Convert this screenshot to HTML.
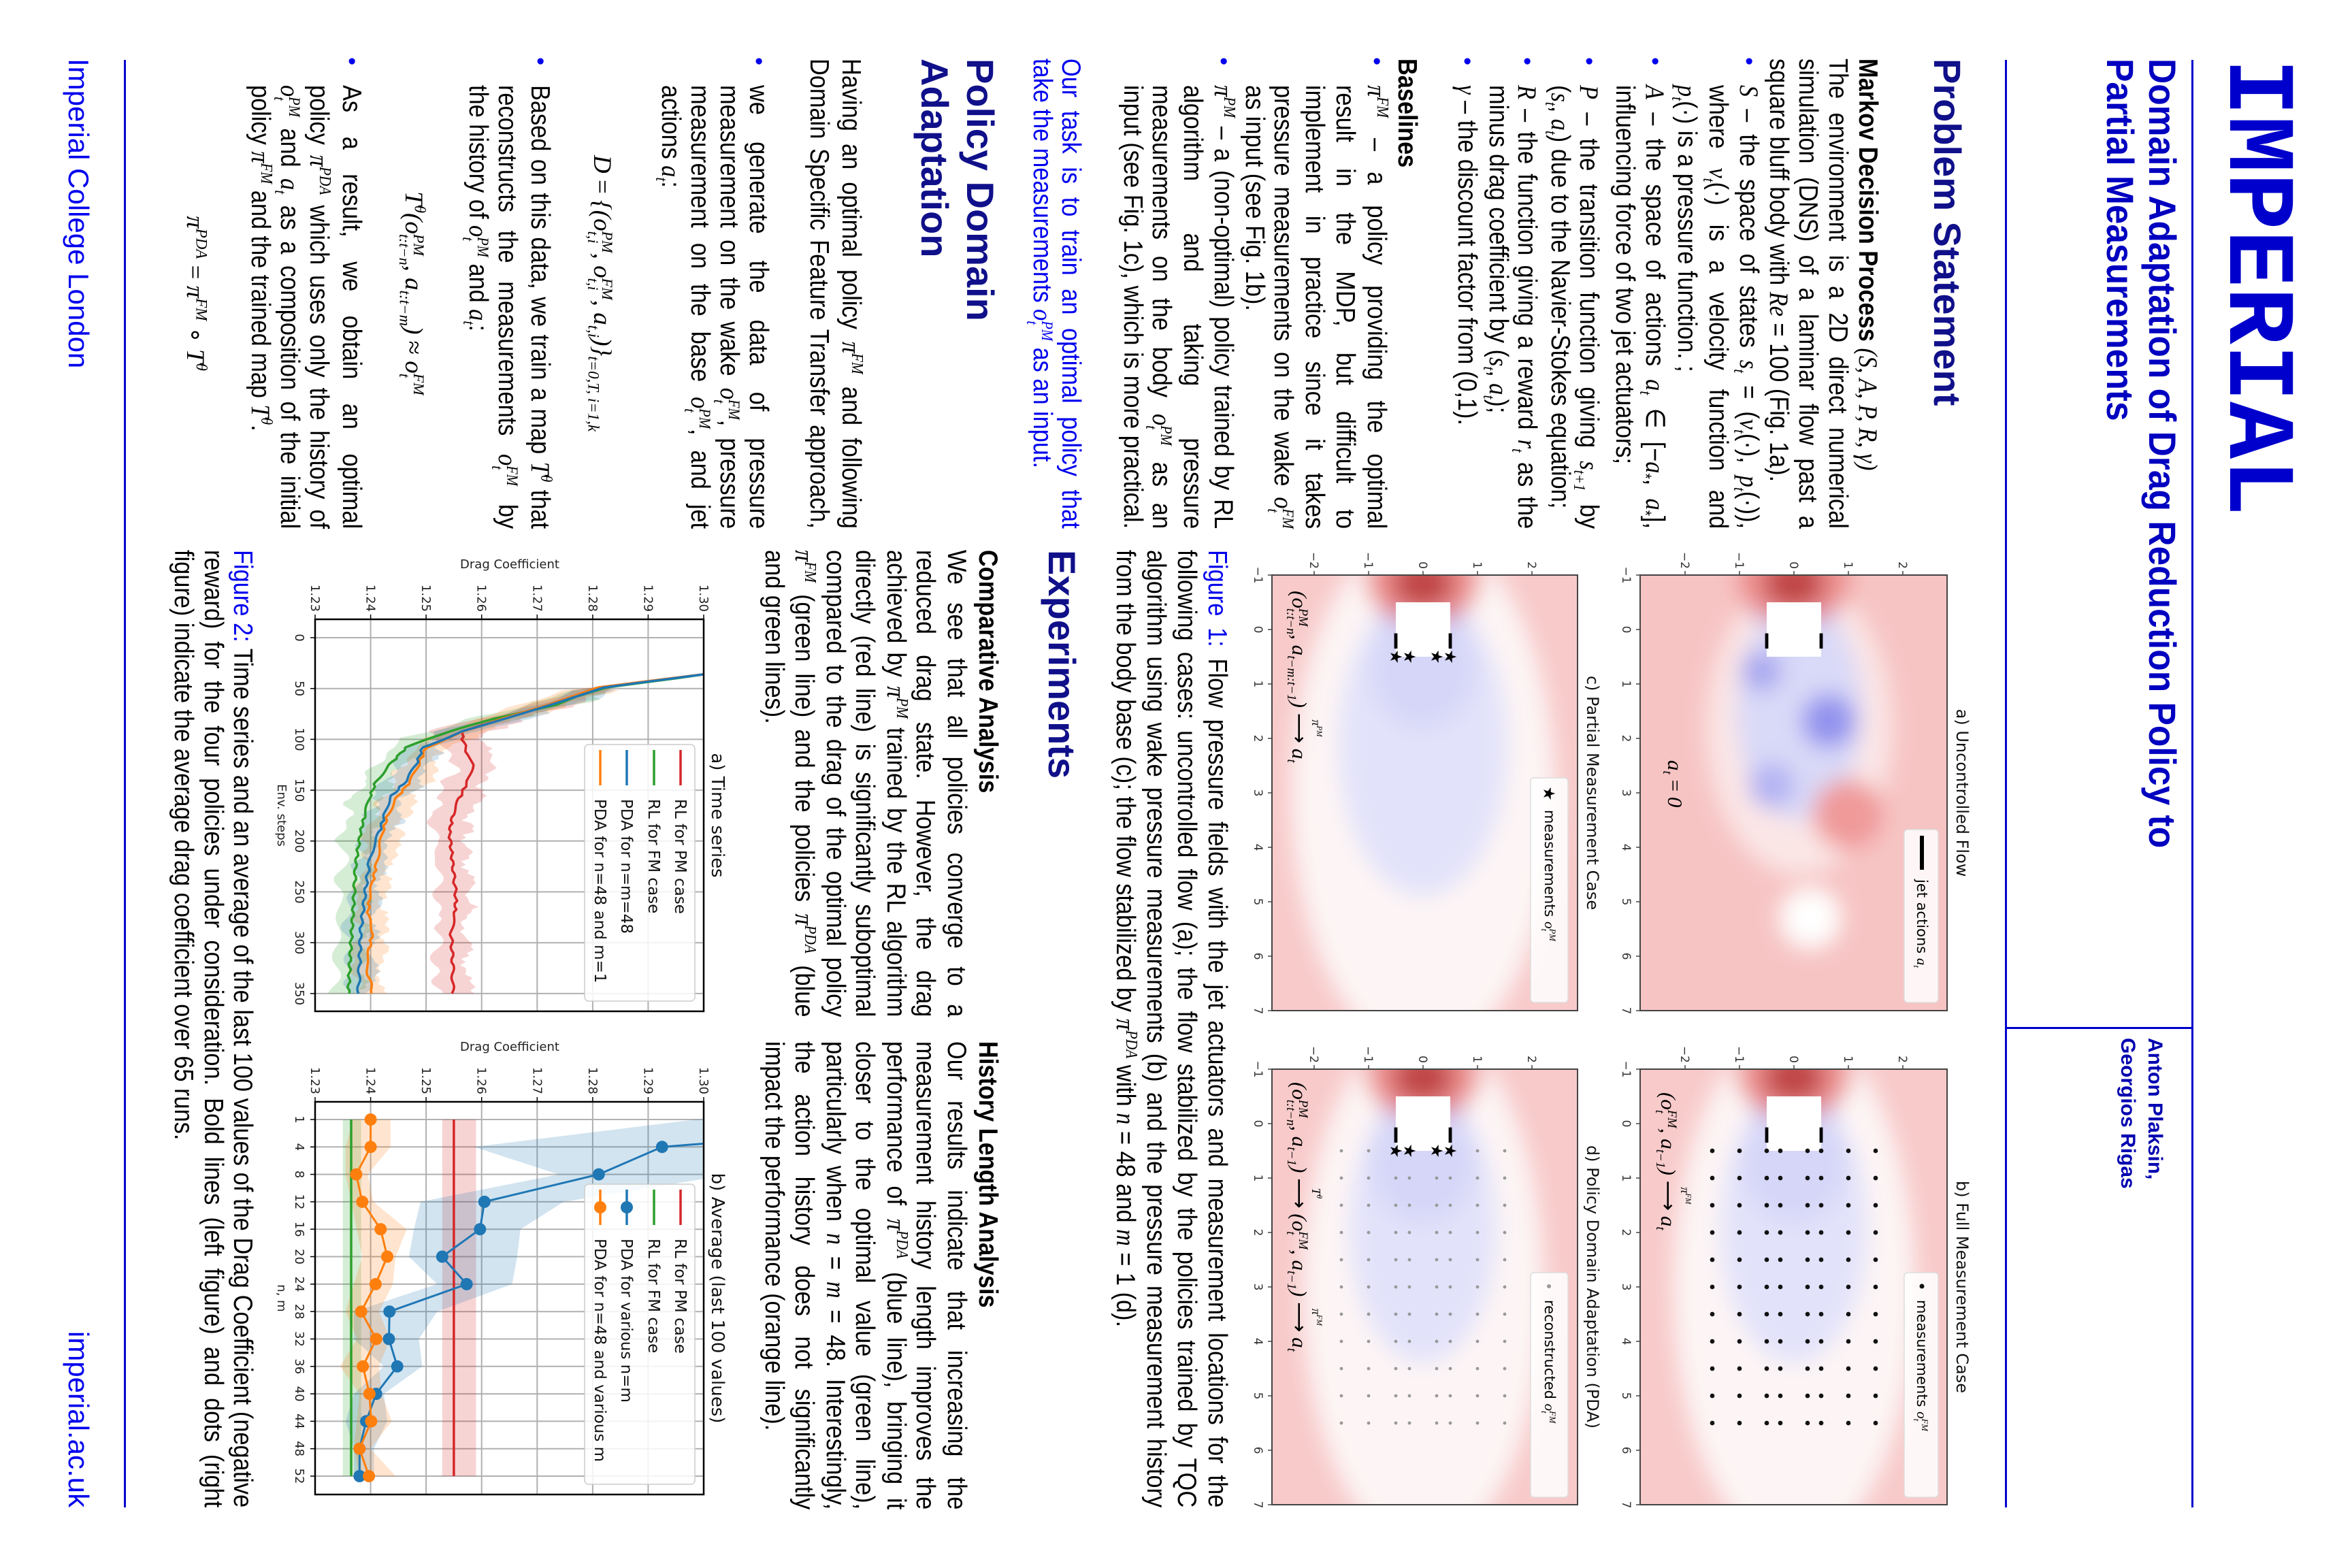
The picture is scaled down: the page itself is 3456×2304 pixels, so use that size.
<!DOCTYPE html>
<html><head><meta charset="utf-8">
<style>
html,body{margin:0;padding:0;background:#fff;}
body{width:3456px;height:2304px;overflow:hidden;position:relative;}
#poster{position:absolute;left:0;top:0;width:2304px;height:3456px;transform-origin:0 0;transform:translate(3456px,0) rotate(90deg);background:#fff;overflow:hidden;}
.t{position:absolute;white-space:nowrap;font-family:"Liberation Sans",sans-serif;font-size:39px;line-height:45px;height:45px;transform:scaleX(.88);transform-origin:0 0;color:#000;}
.j{text-align:justify;text-align-last:justify;}
.c{left:86px;width:785px;}
.b{left:125px;width:741px;}
.r1{left:808px;width:780px;}
.r2{left:1530px;width:782px;}
.cap{left:808px;width:1599px;}
.blue{color:#0000ee;}
.m{font-family:"Liberation Serif","DejaVu Serif",serif;font-style:italic;}
.n{font-style:normal;}
sup,sub{font-size:.62em;line-height:0;}
.ss{display:inline-block;vertical-align:-0.42em;line-height:.95em;font-size:.6em;text-align:left;}
.ss span{display:block;}
.bul{position:absolute;left:84px;font-family:"Liberation Sans",sans-serif;font-size:34px;line-height:45px;color:#0000ee;}
.h{position:absolute;font-family:"Liberation Sans",sans-serif;font-weight:bold;font-size:56px;line-height:64px;color:#10108a;white-space:nowrap;}
.eq{position:absolute;left:0;width:862px;text-align:center;font-family:"Liberation Serif",serif;font-style:italic;font-size:37px;line-height:45px;white-space:nowrap;}
.hl{position:absolute;background:#0000cc;}
.ann{position:absolute;font-family:"Liberation Serif","DejaVu Serif",serif;font-style:italic;font-size:31px;line-height:40px;white-space:nowrap;color:#000;}
.lg{position:absolute;font-family:"DejaVu Sans",sans-serif;font-size:21px;line-height:30px;white-space:nowrap;color:#000;}
.arr{display:inline-block;position:relative;font-style:normal;font-family:"DejaVu Sans",sans-serif;}
.arr i{position:absolute;left:0;right:0;top:-14px;text-align:center;font-family:"Liberation Serif",serif;font-size:18px;line-height:18px;}
</style></head><body>
<div id="poster">
<div id="figs"></div>

<!-- header -->
<div style="position:absolute;left:86px;top:73px;font-family:'Liberation Mono',monospace;font-weight:bold;font-size:140px;line-height:140px;color:#0000cc;white-space:nowrap;">IMPERIAL</div>
<div class="hl" style="left:88px;top:233px;width:2127px;height:3px;"></div>
<div style="position:absolute;left:86px;top:248px;font-family:'Liberation Sans',sans-serif;font-weight:bold;font-size:56px;line-height:62px;color:#0000c0;white-space:nowrap;transform:scaleX(.92);transform-origin:0 0;">Domain Adaptation of Drag Reduction Policy to<br>Partial Measurements</div>
<div class="hl" style="left:1509px;top:234px;width:3px;height:274px;"></div>
<div style="position:absolute;left:1525px;top:270px;font-family:'Liberation Sans',sans-serif;font-weight:bold;font-size:30px;line-height:40px;color:#0000b0;white-space:nowrap;">Anton Plaksin,<br>Georgios Rigas</div>
<div class="hl" style="left:88px;top:507px;width:2127px;height:3px;"></div>

<!-- left column -->
<div class="h" style="left:86px;top:563px;">Problem Statement</div>
<div class="t c" style="top:689px;"><b>Markov Decision Process</b> <span class="m">(S, A, P, R, γ)</span></div>
<div class="t c j" style="top:733px;">The environment is a 2D direct numerical</div>
<div class="t c j" style="top:777px;">simulation (DNS) of a laminar flow past a</div>
<div class="t c" style="top:820px;">square bluff body with <span class="m">Re</span> = 100 (Fig. 1a).</div>
<div class="bul" style="top:864px;">•</div>
<div class="t b j" style="top:864px;"><span class="m">S</span> – the space of states <span class="m">s<sub>t</sub></span> = (<span class="m">v<sub>t</sub></span>(·), <span class="m">p<sub>t</sub></span>(·)),</div>
<div class="t b j" style="top:909px;">where <span class="m">v<sub>t</sub></span>(·) is a velocity function and</div>
<div class="t b" style="top:955px;"><span class="m">p<sub>t</sub></span>(·) is a pressure function. ;</div>
<div class="bul" style="top:1002px;">•</div>
<div class="t b j" style="top:1002px;"><span class="m">A</span> – the space of actions <span class="m">a<sub>t</sub></span> ∈ [−<span class="m">a</span><sub>*</sub>, <span class="m">a</span><sub>*</sub>],</div>
<div class="t b" style="top:1046px;">influencing force of two jet actuators;</div>
<div class="bul" style="top:1099px;">•</div>
<div class="t b j" style="top:1099px;"><span class="m">P</span> – the transition function giving <span class="m">s<sub>t+1</sub></span> by</div>
<div class="t b" style="top:1141px;">(<span class="m">s<sub>t</sub></span>, <span class="m">a<sub>t</sub></span>) due to the Navier-Stokes equation;</div>
<div class="bul" style="top:1190px;">•</div>
<div class="t b j" style="top:1190px;"><span class="m">R</span> – the function giving a reward <span class="m">r<sub>t</sub></span> as the</div>
<div class="t b" style="top:1232px;">minus drag coefficient by (<span class="m">s<sub>t</sub></span>, <span class="m">a<sub>t</sub></span>);</div>
<div class="bul" style="top:1278px;">•</div>
<div class="t b" style="top:1278px;"><span class="m">γ</span> – the discount factor from (0,1).</div>
<div class="t c" style="top:1366px;"><b>Baselines</b></div>
<div class="bul" style="top:1411px;">•</div>
<div class="t b j" style="top:1411px;"><span class="m">π<sup>FM</sup></span> – a policy providing the optimal</div>
<div class="t b j" style="top:1457px;">result in the MDP, but difficult to</div>
<div class="t b j" style="top:1502px;">implement in practice since it takes</div>
<div class="t b j" style="top:1548px;">pressure measurements on the wake <span class="m">o<span class="ss"><span>FM</span><span>t</span></span></span></div>
<div class="t b" style="top:1590px;">as input (see Fig. 1b).</div>
<div class="bul" style="top:1636px;">•</div>
<div class="t b j" style="top:1636px;"><span class="m">π<sup>PM</sup></span> – a (non-optimal) policy trained by RL</div>
<div class="t b j" style="top:1681px;">algorithm and taking pressure</div>
<div class="t b j" style="top:1727px;">measurements on the body <span class="m">o<span class="ss"><span>PM</span><span>t</span></span></span> as an</div>
<div class="t b j" style="top:1769px;">input (see Fig. 1c), which is more practical.</div>
<div class="t c j blue" style="top:1860px;">Our task is to train an optimal policy that</div>
<div class="t c blue" style="top:1902px;">take the measurements <span class="m">o<span class="ss"><span>PM</span><span>t</span></span></span> as an input.</div>

<div class="h" style="left:86px;top:1984px;">Policy Domain</div>
<div class="h" style="left:86px;top:2051px;">Adaptation</div>
<div class="t c j" style="top:2183px;">Having an optimal policy <span class="m">π<sup>FM</sup></span> and following</div>
<div class="t c j" style="top:2230px;">Domain Specific Feature Transfer approach,</div>
<div class="bul" style="top:2319px;">•</div>
<div class="t b j" style="top:2319px;">we generate the data of pressure</div>
<div class="t b j" style="top:2362px;">measurement on the wake <span class="m">o<span class="ss"><span>FM</span><span>t</span></span></span>, pressure</div>
<div class="t b j" style="top:2405px;">measurement on the base <span class="m">o<span class="ss"><span>PM</span><span>t</span></span></span>, and jet</div>
<div class="t b" style="top:2448px;">actions <span class="m">a<sub>t</sub></span>:</div>
<div class="eq" style="top:2549px;">D <span class="n">=</span> {(o<span class="ss"><span>PM</span><span>t,i</span></span>, o<span class="ss"><span>FM</span><span>t,i</span></span>, a<sub>t,i</sub>)}<sub>t=0,T, i=1,k</sub></div>
<div class="bul" style="top:2640px;">•</div>
<div class="t b j" style="top:2640px;">Based on this data, we train a map <span class="m">T<sup>θ</sup></span> that</div>
<div class="t b j" style="top:2688px;">reconstructs the measurements <span class="m">o<span class="ss"><span>FM</span><span>t</span></span></span> by</div>
<div class="t b" style="top:2731px;">the history of <span class="m">o<span class="ss"><span>PM</span><span>t</span></span></span> and <span class="m">a<sub>t</sub></span>:</div>
<div class="eq" style="top:2826px;">T<sup>θ</sup>(o<span class="ss"><span>PM</span><span>t:t−n</span></span>, a<sub>t:t−m</sub>) <span class="n">≈</span> o<span class="ss"><span>FM</span><span>t</span></span></div>
<div class="bul" style="top:2917px;">•</div>
<div class="t b j" style="top:2917px;">As a result, we obtain an optimal</div>
<div class="t b j" style="top:2965px;">policy <span class="m">π<sup>PDA</sup></span> which uses only the history of</div>
<div class="t b j" style="top:3008px;"><span class="m">o<span class="ss"><span>PM</span><span>t</span></span></span> and <span class="m">a<sub>t</sub></span> as a composition of the initial</div>
<div class="t b" style="top:3051px;">policy <span class="m">π<sup>FM</sup></span> and the trained map <span class="m">T<sup>θ</sup></span>.</div>
<div class="eq" style="top:3147px;">π<sup>PDA</sup> <span class="n">=</span> π<sup>FM</sup> <span class="n">∘</span> T<sup>θ</sup></div>

<!-- right column -->
<div class="t cap j" style="top:1645px;"><span class="blue">Figure 1:</span> Flow pressure fields with the jet actuators and measurement locations for the</div>
<div class="t cap j" style="top:1690px;">following cases: uncontrolled flow (a); the flow stabilized by the policies trained by TQC</div>
<div class="t cap j" style="top:1735px;">algorithm using wake pressure measurements (b) and the pressure measurement history</div>
<div class="t cap" style="top:1780px;">from the body base (c); the flow stabilized by <span class="m">π<sup>PDA</sup></span> with <span class="m">n</span> = 48 and <span class="m">m</span> = 1 (d).</div>
<div class="h" style="left:808px;top:1864px;">Experiments</div>
<div class="t r1" style="top:1982px;"><b>Comparative Analysis</b></div>
<div class="t r1 j" style="top:2028px;">We see that all policies converge to a</div>
<div class="t r1 j" style="top:2074px;">reduced drag state. However, the drag</div>
<div class="t r1 j" style="top:2117px;">achieved by <span class="m">π<sup>PM</sup></span> trained by the RL algorithm</div>
<div class="t r1 j" style="top:2163px;">directly (red line) is significantly suboptimal</div>
<div class="t r1 j" style="top:2206px;">compared to the drag of the optimal policy</div>
<div class="t r1 j" style="top:2252px;"><span class="m">π<sup>FM</sup></span> (green line) and the policies <span class="m">π<sup>PDA</sup></span> (blue</div>
<div class="t r1" style="top:2296px;">and green lines).</div>
<div class="t r2" style="top:1982px;"><b>History Length Analysis</b></div>
<div class="t r2 j" style="top:2028px;">Our results indicate that increasing the</div>
<div class="t r2 j" style="top:2074px;">measurement history length improves the</div>
<div class="t r2 j" style="top:2117px;">performance of <span class="m">π<sup>PDA</sup></span> (blue line), bringing it</div>
<div class="t r2 j" style="top:2163px;">closer to the optimal value (green line),</div>
<div class="t r2 j" style="top:2206px;">particularly when <span class="m">n</span> = <span class="m">m</span> = 48. Interestingly,</div>
<div class="t r2 j" style="top:2252px;">the action history does not significantly</div>
<div class="t r2" style="top:2296px;">impact the performance (orange line).</div>
<div class="t cap j" style="top:3077px;"><span class="blue">Figure 2:</span> Time series and an average of the last 100 values of the Drag Coefficient (negative</div>
<div class="t cap j" style="top:3120px;">reward) for the four policies under consideration. Bold lines (left figure) and dots (right</div>
<div class="t cap" style="top:3164px;">figure) indicate the average drag coefficient over 65 runs.</div>

<!-- figure 1 annotations -->
<div class="ann" style="left:1117px;top:975px;">a<sub>t</sub> <span class="n">=</span> 0</div>
<div class="ann" style="left:1605px;top:985px;">(o<span class="ss"><span>FM</span><span>t</span></span>, a<sub>t−1</sub>) <span class="arr"><i>π<sup>FM</sup></i>⟶</span> a<sub>t</sub></div>
<div class="ann" style="left:868px;top:1527px;">(o<span class="ss"><span>PM</span><span>t:t−n</span></span>, a<sub>t−m:t−1</sub>) <span class="arr"><i>π<sup>PM</sup></i>⟶</span> a<sub>t</sub></div>
<div class="ann" style="left:1590px;top:1527px;">(o<span class="ss"><span>PM</span><span>t:t−n</span></span>, a<sub>t−1</sub>) <span class="arr"><i>T<sup>θ</sup></i>⟶</span> (o<span class="ss"><span>FM</span><span>t</span></span>, a<sub>t−1</sub>) <span class="arr"><i>π<sup>FM</sup></i>⟶</span> a<sub>t</sub></div>
<div class="lg" style="left:1292px;top:617px;">jet actions <span class="m">a<sub>t</sub></span></div>
<div class="lg" style="left:1910px;top:617px;">measurements <span class="m">o<span class="ss"><span>FM</span><span>t</span></span></span></div>
<div class="lg" style="left:1190px;top:1164px;">measurements <span class="m">o<span class="ss"><span>PM</span><span>t</span></span></span></div>
<div class="lg" style="left:1910px;top:1164px;">reconstructed <span class="m">o<span class="ss"><span>FM</span><span>t</span></span></span></div>

<!-- footer -->
<div class="hl" style="left:88px;top:3271px;width:2127px;height:3px;"></div>
<div style="position:absolute;left:86px;top:3316px;font-family:'Liberation Sans',sans-serif;font-size:42px;line-height:50px;color:#0000ee;white-space:nowrap;">Imperial College London</div>
<div style="position:absolute;right:89px;top:3316px;font-family:'Liberation Sans',sans-serif;font-size:42px;line-height:50px;color:#0000ee;white-space:nowrap;">imperial.ac.uk</div>
</div>

<script>
(function(){
let g='<svg xmlns="http://www.w3.org/2000/svg" width="2304" height="3456" style="position:absolute;left:0;top:0" font-family="DejaVu Sans, sans-serif">';
const P=[[845,595,640,451,820,'a'],[1571,595,640,451,820,'b'],[845,1138,640,449,1365,'c'],[1571,1138,640,449,1365,'d']];
g+='<defs><filter id="bl" x="-1" y="-1" width="3" height="3"><feGaussianBlur stdDeviation="0.2"/></filter>';
P.forEach((p,i)=>{g+=`<clipPath id="cp${i}"><rect x="${p[0]}" y="${p[1]}" width="${p[2]}" height="${p[3]}"/></clipPath>`;});
g+='<clipPath id="ca"><rect x="910" y="2422" width="576" height="571"/></clipPath><clipPath id="cb"><rect x="1619" y="2422" width="577" height="571"/></clipPath></defs>';
const titles=['a) Uncontrolled Flow','b) Full Measurement Case','c) Partial Measurement Case','d) Policy Domain Adaptation (PDA)'];
P.forEach((p,i)=>{
 const [x0,y0,w,h,yc,k]=p;
 g+=`<g clip-path="url(#cp${i})"><g transform="translate(${x0+80},${yc}) scale(80)"><g filter="url(#bl)">`;
 if(k==='a'){
  g+='<rect x="-2" y="-4" width="11" height="8" fill="#f7c4c4"/><ellipse cx="1.8" cy="-0.1" rx="2.7" ry="1.7" fill="#fbe6e6"/><ellipse cx="1.5" cy="-0.1" rx="2.0" ry="1.15" fill="#d9d9f8"/><circle cx="1.68" cy="-0.64" r="0.5" fill="#9393ee"/><circle cx="2.87" cy="0.41" r="0.42" fill="#b3b3f3"/><circle cx="0.76" cy="0.6" r="0.38" fill="#a8a8f0"/><circle cx="3.4" cy="-1.0" r="0.65" fill="#f09a9a"/><circle cx="5.3" cy="-0.3" r="0.55" fill="#ffffff"/>';
 } else {
  const c=k==='c';
  g+=`<rect x="-2" y="-4" width="11" height="8" fill="#f8caca"/><ellipse cx="3" cy="0" rx="4.8" ry="${c?2.4:2.2}" fill="#fdf5f5"/><ellipse cx="${c?2.1:1.9}" cy="0" rx="${c?2.8:2.5}" ry="${c?1.55:1.35}" fill="#e2e2fa"/><ellipse cx="0.7" cy="0" rx="1.1" ry="0.95" fill="#d6d6f8"/>`;
 }
 g+='<circle cx="-0.35" cy="-0.55" r="0.2" fill="#6666e6"/><circle cx="-0.35" cy="0.55" r="0.2" fill="#6666e6"/><ellipse cx="-0.9" cy="0" rx="0.8" ry="1.05" fill="#ec8e8e"/><ellipse cx="-0.85" cy="0" rx="0.45" ry="0.55" fill="#c04545"/></g>';
 g+='<rect x="-0.5" y="-0.5" width="1" height="1" fill="#fff"/><rect x="0.07" y="-0.53" width="0.28" height="0.06" fill="#000"/><rect x="0.07" y="0.47" width="0.28" height="0.06" fill="#000"/>';
 if(k==='b'||k==='d'){
  for(let x=0.5;x<=5.51;x+=0.5){for(const y of [-1.5,-1,-0.5,-0.25,0.25,0.5,1,1.5]){
   if(k==='d'&&x===0.5&&Math.abs(y)<=0.5) continue;
   g+=`<circle cx="${x}" cy="${y}" r="${k==='b'?0.042:0.03}" fill="${k==='b'?'#111':'#999'}"/>`;}}
 }
 if(k==='c'||k==='d'){
  for(const y of [-0.5,-0.25,0.25,0.5]) g+=`<text x="0.5" y="${y+0.1}" font-size="0.3" text-anchor="middle" fill="#000">★</text>`;
 }
 g+='</g></g>';
 g+=`<rect x="${x0}" y="${y0}" width="${w}" height="${h}" fill="none" stroke="#444" stroke-width="2"/>`;
 for(let t=-1;t<=7;t++){const X=x0+(t+1)*80;g+=`<line x1="${X}" y1="${y0+h}" x2="${X}" y2="${y0+h+6}" stroke="#444" stroke-width="1.5"/><text x="${X}" y="${y0+h+26}" font-size="17" text-anchor="middle" fill="#333">${t<0?'−1':t}</text>`;}
 for(let t=-2;t<=2;t++){const Y=yc-t*80;g+=`<line x1="${x0-6}" y1="${Y}" x2="${x0}" y2="${Y}" stroke="#444" stroke-width="1.5"/><text x="${x0-9}" y="${Y+6}" font-size="17" text-anchor="end" fill="#333">${t<0?'−'+(-t):t}</text>`;}
 g+=`<text x="${x0+320}" y="${y0-14}" font-size="24" text-anchor="middle" fill="#111">${titles[i]}</text>`;
});
// fig1 legends
g+='<rect x="1219" y="608" width="254" height="50" rx="5" fill="#fff" fill-opacity="0.85" stroke="#ddd" stroke-width="1.5"/><line x1="1228" y1="632" x2="1278" y2="632" stroke="#000" stroke-width="6"/>';
g+='<rect x="1870" y="608" width="330" height="50" rx="5" fill="#fff" fill-opacity="0.85" stroke="#ddd" stroke-width="1.5"/><circle cx="1890" cy="632" r="3.5" fill="#111"/>';
g+='<rect x="1143" y="1152" width="330" height="55" rx="5" fill="#fff" fill-opacity="0.85" stroke="#ddd" stroke-width="1.5"/><text x="1166" y="1188" font-size="24" text-anchor="middle">★</text>';
g+='<rect x="1870" y="1152" width="330" height="55" rx="5" fill="#fff" fill-opacity="0.85" stroke="#ddd" stroke-width="1.5"/><circle cx="1890" cy="1180" r="3" fill="#999"/>';

// fig 2
const XA=s=>937+1.494*s, YV=v=>2993-8157*(v-1.23), XB=i=>1645+40.31*i;
const f=n=>n.toFixed(1);
const vt=[1.23,1.24,1.25,1.26,1.27,1.28,1.29,1.30];
function axes(x1,x2,xt,lab,title,xlab){
 for(const v of vt){g+=`<line x1="${x1}" y1="${f(YV(v))}" x2="${x2}" y2="${f(YV(v))}" stroke="#b0b0b0" stroke-width="2"/><line x1="${x1-7}" y1="${f(YV(v))}" x2="${x1}" y2="${f(YV(v))}" stroke="#000" stroke-width="1.5"/><text x="${x1-11}" y="${f(YV(v)+6)}" font-size="18" text-anchor="end" fill="#222">${v.toFixed(2)}</text>`;}
 xt.forEach((X,i)=>{g+=`<line x1="${f(X)}" y1="2422" x2="${f(X)}" y2="2993" stroke="#b0b0b0" stroke-width="2"/><line x1="${f(X)}" y1="2993" x2="${f(X)}" y2="3000" stroke="#000" stroke-width="1.5"/><text x="${f(X)}" y="3022" font-size="18" text-anchor="middle" fill="#222">${lab[i]}</text>`;});
 g+=`<text transform="translate(${x1-75},2707) rotate(-90)" font-size="18" text-anchor="middle" fill="#222">Drag Coefficient</text>`;
 g+=`<text x="${(x1+x2)/2}" y="3048" font-size="18" text-anchor="middle" fill="#222">${xlab}</text>`;
 g+=`<text x="${(x1+x2)/2}" y="2410" font-size="26" text-anchor="middle" fill="#111">${title}</text>`;
}
axes(910,1486,[0,50,100,150,200,250,300,350].map(XA),['0','50','100','150','200','250','300','350'],'a) Time series','Env. steps');
const nl=['1','4','8','12','16','20','24','28','32','36','40','44','48','52'];
axes(1619,2196,nl.map((_,i)=>XB(i)),nl,'b) Average (last 100 values)','n, m');

function interp(pts,step){const o=[];for(let i=0;i<pts.length-1;i++){const [s0,v0]=pts[i],[s1,v1]=pts[i+1];const n=Math.max(1,Math.round((s1-s0)/step));for(let k=0;k<n;k++){const t=k/n;o.push([s0+(s1-s0)*t,v0+(v1-v0)*t]);}}o.push(pts[pts.length-1]);return o;}
const series=[
 ['#2ca02c',[[36,1.30],[40,1.295],[49,1.2825],[58,1.277],[66,1.2735],[80,1.262],[92,1.2542],[108,1.2464],[125,1.2434],[141,1.241],[158,1.2398],[174,1.239],[191,1.2382],[223,1.2373],[256,1.237],[306,1.2364],[350,1.236]],0],
 ['#d62728',[[36,1.30],[40,1.294],[49,1.281],[66,1.272],[80,1.2635],[92,1.2566],[100,1.2566],[115,1.2575],[125,1.2584],[141,1.2575],[158,1.256],[174,1.2548],[191,1.2542],[223,1.2548],[256,1.2554],[273,1.2551],[289,1.2545],[322,1.2548],[350,1.2548]],1],
 ['#ff7f0e',[[36,1.30],[40,1.294],[49,1.281],[66,1.272],[80,1.2635],[92,1.257],[108,1.25],[125,1.2486],[141,1.2472],[158,1.2446],[174,1.2431],[191,1.2422],[207,1.2416],[223,1.241],[240,1.2404],[256,1.2398],[273,1.2395],[289,1.2404],[306,1.2398],[322,1.2392],[350,1.2404]],2],
 ['#1f77b4',[[36,1.30],[40,1.2945],[49,1.282],[66,1.2725],[80,1.264],[92,1.2566],[108,1.2494],[125,1.2482],[141,1.2464],[158,1.2434],[174,1.2425],[191,1.2416],[207,1.2404],[223,1.2397],[256,1.2389],[289,1.2382],[322,1.238],[350,1.2378]],3]
];
let bands='',lines='';
series.forEach(([col,pts,id])=>{
 const q=interp(pts,3);
 const up=[],lo=[],ln=[];
 q.forEach(([s,v],i)=>{
  let d=s<50?0.001:s<100?0.0038:s<200?0.003:0.0025;
  if(id===1) d*=1.1;
  const j1=1+0.35*Math.sin(s*1.9+id*2)+0.2*Math.sin(s*5.3+id);
  const j2=1+0.35*Math.sin(s*2.3+id*3+1)+0.2*Math.sin(s*4.1+id);
  const nz=(s>90?0.00025:0)*Math.sin(s*3.7+id*5);
  up.push(f(XA(s))+','+f(YV(v+d*j1)));lo.unshift(f(XA(s))+','+f(YV(v-d*j2)));
  ln.push(f(XA(s))+','+f(YV(v+nz)));
 });
 bands+=`<polygon points="${up.join(' ')} ${lo.join(' ')}" fill="${col}" fill-opacity="0.2"/>`;
 lines+=`<polyline points="${ln.join(' ')}" fill="none" stroke="${col}" stroke-width="3.5" stroke-linejoin="round"/>`;
});
g+=`<g clip-path="url(#ca)">${bands}${lines}</g>`;

// fig 2b
const blue=[1.355,1.2925,1.2811,1.2605,1.2597,1.2529,1.2573,1.2434,1.2433,1.2448,1.2410,1.2392,1.238,1.238];
const blo=[1.2985,1.2586,1.2739,1.249,1.2478,1.2469,1.252,1.237,1.237,1.2424,1.237,1.2355,1.237,1.237];
const bhi=[1.36,1.305,1.305,1.2748,1.267,1.2664,1.2655,1.252,1.2487,1.2493,1.2424,1.243,1.2406,1.2406];
const oran=[1.24,1.24,1.2374,1.2385,1.2418,1.243,1.2409,1.2383,1.241,1.2386,1.2398,1.2401,1.238,1.2397];
const olo=[1.2368,1.2355,1.2355,1.2365,1.2375,1.2385,1.237,1.2355,1.2375,1.2345,1.238,1.2375,1.237,1.238];
const ohi=[1.2436,1.2436,1.2395,1.2405,1.2465,1.2445,1.244,1.2415,1.2435,1.2415,1.242,1.2438,1.24,1.2445];
function band(lo,hi,col){const a=hi.map((v,i)=>f(XB(i))+','+f(YV(v)));const b=lo.map((v,i)=>f(XB(i))+','+f(YV(v))).reverse();return `<polygon points="${a.join(' ')} ${b.join(' ')}" fill="${col}" fill-opacity="0.2"/>`;}
let gb='';
gb+=`<rect x="${XB(0)}" y="${f(YV(1.259))}" width="${f(XB(13)-XB(0))}" height="${f(YV(1.2529)-YV(1.259))}" fill="#d62728" fill-opacity="0.2"/>`;
gb+=`<rect x="${XB(0)}" y="${f(YV(1.2383))}" width="${f(XB(13)-XB(0))}" height="${f(YV(1.235)-YV(1.2383))}" fill="#2ca02c" fill-opacity="0.2"/>`;
gb+=band(blo,bhi,'#1f77b4')+band(olo,ohi,'#ff7f0e');
gb+=`<line x1="${XB(0)}" y1="${f(YV(1.255))}" x2="${f(XB(13))}" y2="${f(YV(1.255))}" stroke="#d62728" stroke-width="3.5"/>`;
gb+=`<line x1="${XB(0)}" y1="${f(YV(1.2365))}" x2="${f(XB(13))}" y2="${f(YV(1.2365))}" stroke="#2ca02c" stroke-width="3.5"/>`;
gb+=`<polyline points="${blue.map((v,i)=>f(XB(i))+','+f(YV(v))).join(' ')}" fill="none" stroke="#1f77b4" stroke-width="3"/>`;
blue.forEach((v,i)=>{if(i>0)gb+=`<circle cx="${f(XB(i))}" cy="${f(YV(v))}" r="9" fill="#1f77b4"/>`;});
gb+=`<polyline points="${oran.map((v,i)=>f(XB(i))+','+f(YV(v))).join(' ')}" fill="none" stroke="#ff7f0e" stroke-width="3"/>`;
oran.forEach((v,i)=>{gb+=`<circle cx="${f(XB(i))}" cy="${f(YV(v))}" r="9" fill="#ff7f0e"/>`;});
g+=`<g clip-path="url(#cb)">${gb}</g>`;
g+='<rect x="910" y="2422" width="576" height="571" fill="none" stroke="#000" stroke-width="2.5"/><rect x="1619" y="2422" width="577" height="571" fill="none" stroke="#000" stroke-width="2.5"/>';
// legends
function legend(x,w,items,mk){
 g+=`<rect x="${x}" y="2435" width="${w}" height="162" rx="6" fill="#fff" fill-opacity="0.85" stroke="#ccc" stroke-width="1.5"/>`;
 const ys=[2456,2495,2535,2574];
 items.forEach(([c,t,m],i)=>{const y=ys[i];g+=`<line x1="${x+8}" y1="${y}" x2="${x+60}" y2="${y}" stroke="${c}" stroke-width="3.5"/>`;if(m)g+=`<circle cx="${x+34}" cy="${y}" r="9" fill="${c}"/>`;g+=`<text x="${x+80}" y="${y+8}" font-size="23" fill="#111">${t}</text>`;});
}
legend(1094,377,[['#d62728','RL for PM case'],['#2ca02c','RL for FM case'],['#1f77b4','PDA for n=m=48'],['#ff7f0e','PDA for n=48 and m=1']]);
legend(1740,441,[['#d62728','RL for PM case'],['#2ca02c','RL for FM case'],['#1f77b4','PDA for various n=m',1],['#ff7f0e','PDA for n=48 and various m',1]]);
g+='</svg>';
document.getElementById('figs').innerHTML=g;
})();
</script>
</body></html>
